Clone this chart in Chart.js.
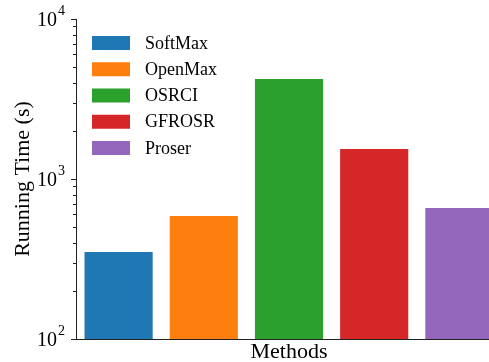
<!DOCTYPE html>
<html>
<head>
<meta charset="utf-8">
<script src="https://cdn.jsdelivr.net/npm/chart.js@4"></script>
<style>
  html, body { margin: 0; padding: 0; overflow: hidden; background: #fff; }
  #wrap { width: 502px; height: 362px; }
</style>
</head>
<body>
<div id="wrap"><canvas id="myChart"></canvas></div>
<script>
const methods = ['SoftMax', 'OpenMax', 'OSRCI', 'GFROSR', 'Proser'];
const runningTime = [350, 587, 4217, 1540, 659];
const barColors = ['#1f77b4', '#ff7f0e', '#2ca02c', '#d62728', '#9467bd'];
const yExponents = [2, 3, 4];

const serif = '"Liberation Serif", "Times New Roman", serif';
const axisColor = '#222';

// log ticks with superscript labels + inset legend
const decorations = {
  id: 'decorations',
  afterDraw(chart) {
    const ctx = chart.ctx;
    const y = chart.scales.y;
    const left = y.right;
    ctx.save();
    ctx.strokeStyle = axisColor;
    ctx.lineWidth = 1;
    // ticks
    for (let e = yExponents[0]; e <= yExponents[yExponents.length - 1]; e++) {
      for (let m = 1; m <= 9; m++) {
        if (e === yExponents[yExponents.length - 1] && m > 1) break;
        const py = Math.round(y.getPixelForValue(m * Math.pow(10, e))) + 0.5;
        const len = m === 1 ? 5 : 3;
        ctx.beginPath();
        ctx.moveTo(left - len, py);
        ctx.lineTo(left, py);
        ctx.stroke();
      }
    }
    // labels
    ctx.fillStyle = '#000';
    ctx.textBaseline = 'alphabetic';
    yExponents.forEach(e => {
      const py = y.getPixelForValue(Math.pow(10, e));
      ctx.font = '20px ' + serif;
      ctx.textAlign = 'right';
      ctx.fillText('10', 57, py + 7);
      ctx.font = '14px ' + serif;
      ctx.textAlign = 'left';
      ctx.fillText(String(e), 58, py - 4);
    });
    // legend
    ctx.font = '18px ' + serif;
    ctx.textBaseline = 'middle';
    ctx.textAlign = 'left';
    methods.forEach((name, i) => {
      const cy = 43 + i * 26.25;
      ctx.fillStyle = barColors[i];
      ctx.fillRect(92, cy - 7, 38, 14);
      ctx.fillStyle = '#000';
      ctx.fillText(name, 145, cy + 1);
    });
    ctx.restore();
  }
};

new Chart(document.getElementById('myChart'), {
  type: 'bar',
  data: {
    labels: methods,
    datasets: [{
      label: 'Running Time (s)',
      data: runningTime,
      backgroundColor: barColors,
      borderWidth: 0,
      barPercentage: 0.8,
      categoryPercentage: 1.0
    }]
  },
  options: {
    responsive: true,
    maintainAspectRatio: false,
    animation: false,
    layout: { padding: { top: 19, right: 0, left: 0, bottom: 0 } },
    plugins: {
      legend: { display: false },
      tooltip: { enabled: false }
    },
    scales: {
      x: {
        grid: { display: false },
        border: { display: true, color: axisColor, width: 1 },
        ticks: { display: false },
        title: {
          display: true,
          text: 'Methods',
          color: '#000',
          font: { family: serif, size: 22 },
          padding: { top: 0, bottom: -3 }
        },
        afterFit(scale) { scale.height = 23; }
      },
      y: {
        type: 'logarithmic',
        min: 100,
        max: 10000,
        grid: { display: false },
        border: { display: true, color: axisColor, width: 1 },
        ticks: { display: false },
        title: {
          display: true,
          text: 'Running Time (s)',
          color: '#000',
          font: { family: serif, size: 22 },
          padding: { top: 10, bottom: 0 }
        },
        afterFit(scale) { scale.width = 76; }
      }
    }
  },
  plugins: [decorations]
});
</script>
</body>
</html>
